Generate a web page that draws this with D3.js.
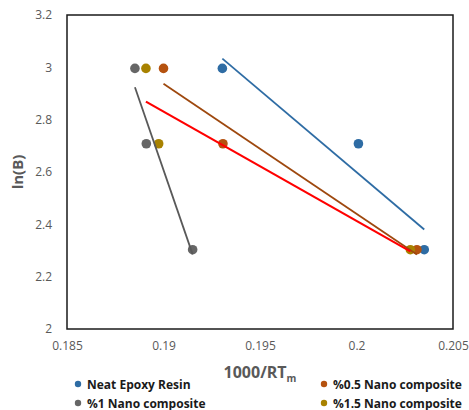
<!DOCTYPE html>
<html>
<head>
<meta charset="utf-8">
<script src="https://cdn.jsdelivr.net/npm/d3@7"></script>
<style>
  body { margin: 0; background: #fff; }
  svg text { font-family: "Open Sans", "Liberation Sans", sans-serif; }
</style>
</head>
<body>
<div id="container-div"></div>
<script>
// series data
var seriesNames = ["Neat Epoxy Resin", "%0.5 Nano composite", "%1 Nano composite", "%1.5 Nano composite"];
var lnB = [2.996, 2.708, 2.303];
var xNeat = [0.19305, 0.2001, 0.20351];
var xHalf = [0.19, 0.19308, 0.20313];
var xOne = [0.18852, 0.18911, 0.19151];
var xOneHalf = [0.18909, 0.18975, 0.20279];
var xTicks = [0.185, 0.19, 0.195, 0.2, 0.205];
var yTicks = [2, 2.2, 2.4, 2.6, 2.8, 3, 3.2];

var dotColors = ["#2e6ca4", "#b5520f", "#666666", "#a88200"];
var lineColors = ["#2e6ca4", "#9e480e", "#595959", "#ff0000"];

var allX = [xNeat, xHalf, xOne, xOneHalf];

var width = 469, height = 410;
var plotLeft = 67, plotRight = 453, plotTop = 15, plotBottom = 329;

let viz = d3.select("#container-div").append("svg")
    .attr("width", width)
    .attr("height", height)
    .attr("id", "viz");

var x = d3.scaleLinear().domain([0.185, 0.205]).range([plotLeft, plotRight]);
var y = d3.scaleLinear().domain([2, 3.2]).range([plotBottom, plotTop]);

// least squares trendline for one series
function fit(xs, ys) {
    var mx = d3.mean(xs), my = d3.mean(ys);
    var sxy = d3.sum(xs, function(v, i) { return (v - mx) * (ys[i] - my); });
    var sxx = d3.sum(xs, function(v) { return (v - mx) * (v - mx); });
    var b = sxy / sxx;
    var x0 = d3.min(xs), x1 = d3.max(xs);
    return [[x0, my + b * (x0 - mx)], [x1, my + b * (x1 - mx)]];
}

var xAxis = d3.axisBottom(x).tickValues(xTicks).tickSize(0).tickPadding(12)
    .tickFormat(function(d) { return String(+d.toFixed(3)); });
var yAxis = d3.axisLeft(y).tickValues(yTicks).tickSize(0).tickPadding(15)
    .tickFormat(function(d) { return String(+d.toFixed(1)); });

var gx = viz.append("g").attr("transform", "translate(0," + plotBottom + ")").call(xAxis);
var gy = viz.append("g").attr("transform", "translate(" + plotLeft + ",0)").call(yAxis);
[gx, gy].forEach(function(g) {
    g.select(".domain").remove();
    g.selectAll("text").attr("fill", "#595959").attr("font-size", "12px");
});

viz.append("rect")
    .attr("x", plotLeft).attr("y", plotTop)
    .attr("width", plotRight - plotLeft).attr("height", plotBottom - plotTop)
    .attr("fill", "none").attr("stroke", "#1a1a1a").attr("stroke-width", 1.5);

var line = d3.line().x(function(d) { return x(d[0]); }).y(function(d) { return y(d[1]); });

// dots
allX.forEach(function(xs, s) {
    viz.append("g").selectAll("circle").data(xs).enter()
        .append("circle")
        .attr("cx", function(d) { return x(d); })
        .attr("cy", function(d, i) { return y(lnB[i]); })
        .attr("r", 4.8)
        .attr("fill", dotColors[s]);
});

// trendlines
allX.forEach(function(xs, s) {
    viz.append("path")
        .attr("d", line(fit(xs, lnB)))
        .attr("fill", "none")
        .attr("stroke", lineColors[s])
        .attr("stroke-width", s == 3 ? 2.2 : 1.8);
});

// axis titles
viz.append("text")
    .attr("x", 260).attr("y", 378)
    .attr("text-anchor", "middle")
    .attr("fill", "#595959").attr("font-size", "16px").attr("font-weight", "bold")
    .text("1000/RT")
    .append("tspan").attr("font-size", "10px").attr("dy", 4).text("m");

viz.append("text")
    .attr("transform", "translate(23,172) rotate(-90)")
    .attr("text-anchor", "middle")
    .attr("fill", "#595959").attr("font-size", "15px").attr("font-weight", "bold")
    .text("ln(B)");

// legend
var legendPos = [[78, 384], [324, 384], [78, 403], [324, 403]];
seriesNames.forEach(function(name, s) {
    var p = legendPos[s];
    viz.append("circle").attr("cx", p[0]).attr("cy", p[1]).attr("r", 3.2).attr("fill", dotColors[s]);
    viz.append("text")
        .attr("x", p[0] + 9).attr("y", p[1] + 4.5)
        .attr("fill", "#1a1a1a").attr("font-size", "12px").attr("font-weight", "bold")
        .text(name);
});
</script>
</body>
</html>
